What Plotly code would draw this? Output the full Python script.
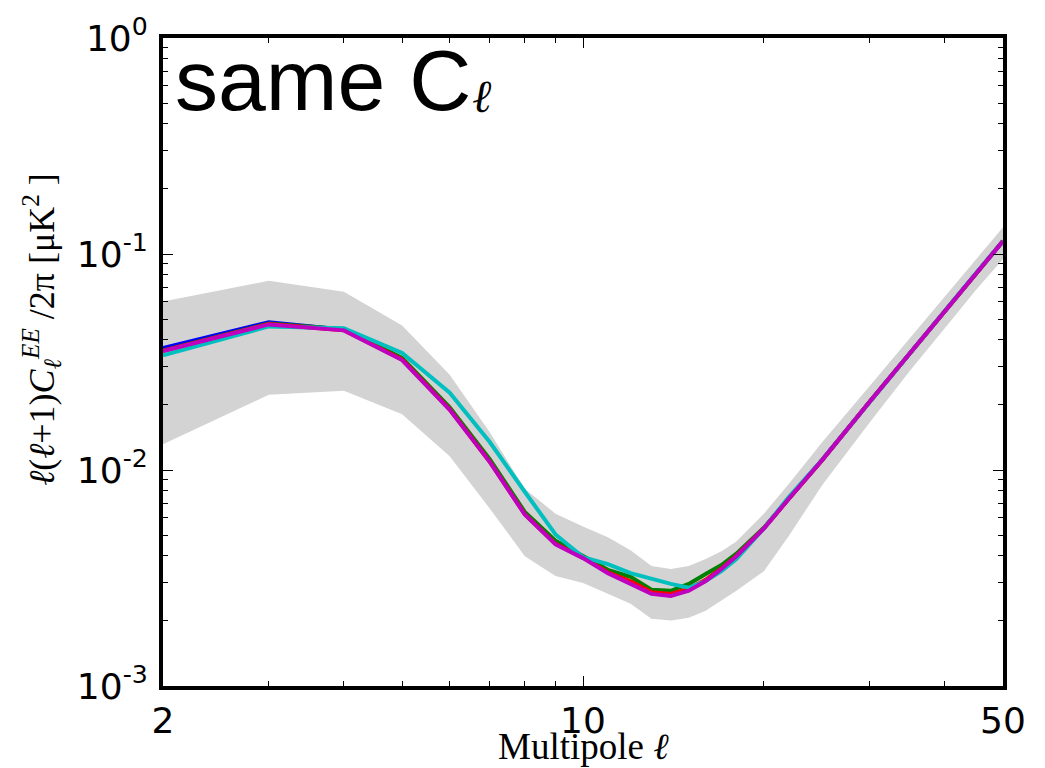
import plotly.graph_objects as go

# Multipoles sampled by every curve and the variance band
ell = [2, 3, 4, 5, 6, 7, 8, 9, 10, 11, 12, 13, 14, 15, 16, 17, 18, 20, 22, 25, 30, 35, 40, 45, 50]

# Cosmic-variance band (upper / lower envelope), uK^2
band_upper = [0.0602, 0.0752, 0.0669, 0.0467, 0.0276, 0.0149, 0.00818, 0.00628, 0.00548, 0.00488,
              0.00425, 0.00359, 0.00348, 0.00359, 0.00387, 0.00421, 0.00467, 0.00628, 0.00862,
              0.01344, 0.0245, 0.0407, 0.0635, 0.0939, 0.133]
band_lower = [0.01316, 0.0223, 0.0233, 0.0181, 0.01159, 0.00662, 0.00399, 0.00323, 0.00300, 0.00267,
              0.00240, 0.00205, 0.00201, 0.00207, 0.00223, 0.00248, 0.00276, 0.00340, 0.00495,
              0.00850, 0.0166, 0.0288, 0.0453, 0.0677, 0.0949]

# EE spectra, l(l+1)C_l/2pi in uK^2
spec_b = [0.0367, 0.0483, 0.0446, 0.0326, 0.0192, 0.0110, 0.00628, 0.00457, 0.00393, 0.00336,
          0.00299, 0.00269, 0.00263, 0.00278, 0.00308, 0.00349, 0.00400, 0.00537, 0.00737,
          0.01112, 0.0207, 0.0348, 0.0542, 0.0810, 0.1147]
spec_g = [0.0357, 0.0477, 0.0448, 0.0330, 0.0195, 0.0112, 0.0064, 0.0047, 0.0040, 0.00345,
          0.00320, 0.00279, 0.00276, 0.00297, 0.00330, 0.00363, 0.00410, 0.00540, 0.00738,
          0.01112, 0.0207, 0.0348, 0.0542, 0.0810, 0.1147]
spec_r = [0.0356, 0.0474, 0.0444, 0.0325, 0.0191, 0.0109, 0.00625, 0.00455, 0.00393, 0.00336,
          0.00305, 0.00272, 0.00267, 0.00282, 0.00310, 0.00350, 0.00401, 0.00537, 0.00736,
          0.01111, 0.0207, 0.0348, 0.0542, 0.0810, 0.1147]
spec_c = [0.0340, 0.0462, 0.0453, 0.0348, 0.0228, 0.01344, 0.00793, 0.00503, 0.00395, 0.00367,
          0.00333, 0.00313, 0.00297, 0.00285, 0.00306, 0.00340, 0.00387, 0.00536, 0.00750,
          0.01115, 0.0207, 0.0348, 0.0542, 0.0810, 0.1147]
spec_m = [0.0355, 0.0472, 0.0443, 0.0323, 0.0190, 0.01088, 0.00622, 0.00453, 0.00391, 0.00333,
          0.00297, 0.00267, 0.00261, 0.00276, 0.00306, 0.00348, 0.00399, 0.00536, 0.00736,
          0.01111, 0.0207, 0.0348, 0.0542, 0.0810, 0.1147]

series = [
    (spec_b, "#0000ff"),
    (spec_g, "#008000"),
    (spec_r, "#ff0000"),
    (spec_c, "#00bfbf"),
    (spec_m, "#bf00bf"),
]

x_ticks = [2, 10, 50]
x_ticktext = ["2", "10", "50"]
x_minor = [3, 4, 5, 6, 7, 8, 9, 20, 30, 40]
y_ticks = [1e-3, 1e-2, 1e-1, 1e0]
y_ticktext = ["10<sup>-3</sup>", "10<sup>-2</sup>", "10<sup>-1</sup>", "10<sup>0</sup>"]
y_minor = [m * 10.0 ** e for e in (-3, -2, -1) for m in range(2, 10)]

fig = go.Figure()

# shaded band as a closed polygon
fig.add_trace(go.Scatter(
    x=ell + ell[::-1],
    y=band_upper + band_lower[::-1],
    fill="toself",
    fillcolor="#d3d3d3",
    line=dict(width=0, color="#d3d3d3"),
    mode="lines",
    hoverinfo="skip",
    showlegend=False,
))

for vals, col in series:
    fig.add_trace(go.Scatter(
        x=ell, y=vals, mode="lines",
        line=dict(color=col, width=4),
        showlegend=False,
    ))

tick_font = dict(family="DejaVu Sans", size=36, color="black")

fig.update_xaxes(
    type="log",
    range=[0.30103, 1.69897],
    tickmode="array",
    tickvals=x_ticks,
    ticktext=x_ticktext,
    ticks="inside",
    ticklen=10,
    tickwidth=1,
    tickcolor="black",
    tickfont=tick_font,
    showline=True,
    linewidth=4,
    linecolor="black",
    mirror="allticks",
    showgrid=False,
    zeroline=False,
    minor=dict(tickmode="array", tickvals=x_minor, ticks="inside", ticklen=5,
               tickwidth=1, tickcolor="black", showgrid=False),
)

fig.update_yaxes(
    type="log",
    range=[-3, 0],
    tickmode="array",
    tickvals=y_ticks,
    ticktext=y_ticktext,
    ticks="inside",
    ticklen=10,
    tickwidth=1,
    tickcolor="black",
    tickfont=tick_font,
    ticklabelstandoff=4,
    showline=True,
    linewidth=4,
    linecolor="black",
    mirror="allticks",
    showgrid=False,
    zeroline=False,
    minor=dict(tickmode="array", tickvals=y_minor, ticks="inside", ticklen=5,
               tickwidth=1, tickcolor="black", showgrid=False),
)

# axis titles
fig.add_annotation(
    text="Multipole <i>ℓ</i>",
    xref="paper", yref="paper", x=0.5, y=-0.093,
    xanchor="center", yanchor="middle", showarrow=False,
    font=dict(family="Liberation Serif", size=37, color="black"),
)
fig.add_annotation(
    text="<i>ℓ</i>(<i>ℓ</i>+1)<i>C</i><sub><i>ℓ</i></sub><sup><i>EE</i></sup> /2π [μK<sup>2</sup> ]",
    xref="paper", yref="paper", x=-0.145, y=0.55,
    xanchor="center", yanchor="middle", showarrow=False, textangle=-90,
    font=dict(family="Liberation Serif", size=36, color="black"),
)

# panel label
fig.add_annotation(
    text="same C",
    xref="paper", yref="paper", x=0.012, y=1.013,
    xanchor="left", yanchor="top", showarrow=False,
    font=dict(family="Liberation Sans", size=86, color="black"),
)
fig.add_annotation(
    text="<i>ℓ</i>",
    xref="paper", yref="paper", x=0.366, y=0.952,
    xanchor="left", yanchor="top", showarrow=False,
    font=dict(family="Liberation Serif", size=46, color="black"),
)

fig.update_layout(
    width=1045, height=768,
    margin=dict(l=163, r=42, t=32, b=82),
    paper_bgcolor="white",
    plot_bgcolor="white",
)

fig.write_html("out.html")
